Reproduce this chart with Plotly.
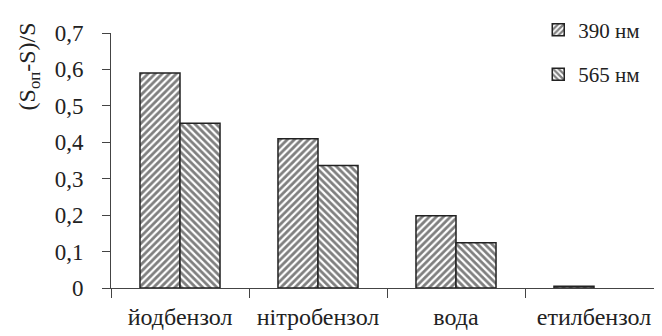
import plotly.graph_objects as go

categories = ["йодбензол", "нітробензол", "вода", "етилбензол"]
series_names = ["390 нм", "565 нм"]
values_390 = [0.59, 0.41, 0.198, 0.005]
values_565 = [0.452, 0.336, 0.124, None]
y_tickvals = [0, 0.1, 0.2, 0.3, 0.4, 0.5, 0.6, 0.7]
y_ticktext = ["0", "0,1", "0,2", "0,3", "0,4", "0,5", "0,6", "0,7"]

FONT = "Times New Roman"

fig = go.Figure()
for name, vals, shape in [(series_names[0], values_390, "/"), (series_names[1], values_565, "\\")]:
    fig.add_trace(go.Bar(
        x=categories, y=vals, name=name, legendgroup=name,
        marker=dict(color="white",
                    line=dict(color="#222222", width=1.5),
                    pattern=dict(shape=shape, fgcolor="#000000", bgcolor="white",
                                 size=5, solidity=0.55, fillmode="overlay")),
    ))

fig.update_layout(
    width=662, height=336,
    margin=dict(l=103, r=7, t=25, b=56, autoexpand=False),
    paper_bgcolor="white", plot_bgcolor="white",
    barmode="group", bargap=0.42, bargroupgap=0,
    font=dict(family=FONT, size=22, color="#222222"),
    showlegend=True,
    legend=dict(x=0.774, y=0.995, yref="container", xanchor="left", yanchor="top",
                font=dict(family=FONT, size=21, color="#222222"), tracegroupgap=14,
                itemwidth=30,
                bgcolor="rgba(0,0,0,0)"),
    xaxis=dict(type="category", tickson="boundaries", ticks="outside", ticklen=9,
               tickcolor="#444444", showline=True, linecolor="#444444", linewidth=1,
               showgrid=False, range=[-0.5, 3.5], automargin=False,
               tickfont=dict(family=FONT, size=24, color="#222222"),
               ticklabelstandoff=7),
    yaxis=dict(range=[0, 0.7], tickvals=y_tickvals, ticktext=y_ticktext,
               ticks="outside", ticklen=8, tickcolor="#444444",
               showline=True, linecolor="#444444", linewidth=1,
               showgrid=False, zeroline=False, automargin=False,
               tickfont=dict(family=FONT, size=23, color="#222222"),
               ticklabelstandoff=14),
    annotations=[dict(text="(S<sub>оп</sub>-S)/S", textangle=-90,
                      xref="paper", yref="paper", x=-0.148, y=0.87,
                      xanchor="center", yanchor="middle", showarrow=False,
                      font=dict(family=FONT, size=24, color="#222222"))],
)

fig.write_html("out.html")
